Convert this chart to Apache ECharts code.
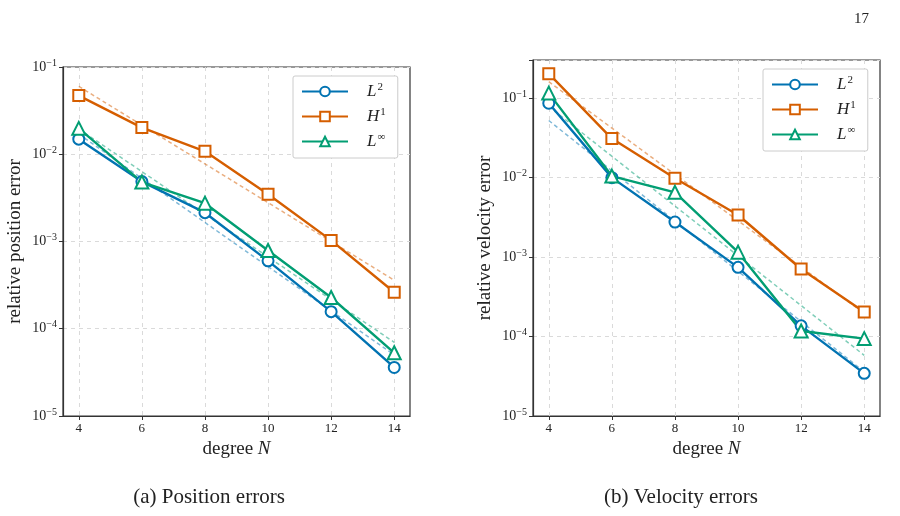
<!DOCTYPE html>
<html>
<head>
<meta charset="utf-8">
<script src="https://cdn.jsdelivr.net/npm/echarts@6/dist/echarts.min.js"></script>
<style>
  html, body { margin: 0; padding: 0; background: #fff; }
  #main { width: 900px; height: 516px; }
</style>
</head>
<body>
<div id="main"></div>
<script>
// degree N on the x axis
const degrees = [4, 6, 8, 10, 12, 14];
const fitDegrees = [4, 14];
const xTicks = [4, 6, 8, 10, 12, 14];

// (a) relative position error
const posL2 = [0.0149, 0.00486, 0.00214, 6.0e-4, 1.57e-4, 3.6e-5];
const posH1 = [0.047, 0.0202, 0.0108, 0.00348, 1.03e-3, 2.62e-4];
const posLinf = [0.0198, 0.0048, 0.00275, 7.9e-4, 2.28e-4, 5.3e-5];
// dashed fit lines (a), values at N=4 and N=14
const posFitL2 = [0.017, 5.0e-5];
const posFitH1 = [0.06, 3.6e-4];
const posFitLinf = [0.0195, 7.0e-5];

// (b) relative velocity error
const velL2 = [0.0857, 0.00995, 0.00275, 7.4e-4, 1.36e-4, 3.44e-5];
const velH1 = [0.202, 0.0308, 0.00977, 3.37e-3, 7.06e-4, 2.03e-4];
const velLinf = [0.115, 0.0104, 0.0065, 1.15e-3, 1.17e-4, 9.4e-5];
// dashed fit lines (b)
const velFitL2 = [0.052, 3.6e-5];
const velFitH1 = [0.16, 1.95e-4];
const velFitLinf = [0.078, 5.8e-5];

const seriesNames = ['L2', 'H1', 'Linf'];
const colors = ['#0173B2', '#D55E00', '#029E73'];
const symbols = ['emptyCircle', 'emptyRect', 'emptyTriangle'];
const legendLabel = { L2: '{i|L}{s|2}', H1: '{i|H}{s|1}', Linf: '{i|L}{s|∞}' };

const serif = 'Liberation Serif';
const ink = '#222';

function pairs(xs, ys) {
  return xs.map((x, i) => [x, ys[i]]);
}

// 10^k labels, skip the non power ends
function logLabel(v) {
  const e = Math.log10(v);
  const k = Math.round(e);
  if (Math.abs(e - k) > 1e-6) return '';
  return '{b|10}{s|' + (k < 0 ? '\u2212' : '') + Math.abs(k) + '}';
}

function solid(i, g, ys) {
  return {
    name: seriesNames[i], type: 'line', xAxisIndex: g, yAxisIndex: g,
    data: pairs(degrees, ys),
    symbol: symbols[i], symbolSize: i === 2 ? 13 : 11,
    lineStyle: { color: colors[i], width: 2.4 },
    itemStyle: { color: colors[i], borderColor: colors[i], borderWidth: 2.2 },
    z: 4
  };
}

function fit(i, g, ys) {
  return {
    name: seriesNames[i] + ' fit', type: 'line', xAxisIndex: g, yAxisIndex: g,
    data: pairs(fitDegrees, ys), symbol: 'none',
    lineStyle: { color: colors[i], width: 1.5, type: [4, 3], opacity: 0.5 },
    z: 3
  };
}

function xAxisFor(g) {
  return {
    type: 'value', gridIndex: g, min: 3.5, max: 14.5,
    name: 'degree {n|N}', nameLocation: 'middle', nameGap: 22,
    nameTextStyle: { fontFamily: serif, fontSize: 19, color: ink,
      rich: { n: { fontFamily: serif, fontSize: 19, fontStyle: 'italic', color: ink } } },
    axisLine: { show: true, onZero: false, lineStyle: { color: '#333', width: 1.2 } },
    axisTick: { show: true, length: 4, customValues: xTicks, lineStyle: { color: '#333' } },
    axisLabel: { customValues: xTicks, margin: 6, fontFamily: serif, fontSize: 13, color: ink },
    splitLine: { show: true, lineStyle: { color: '#dadada', type: [4, 4] } }
  };
}

function yAxisFor(g, max, name) {
  return {
    type: 'log', logBase: 10, gridIndex: g, min: 1e-5, max: max,
    name: name, nameLocation: 'middle', nameGap: 38,
    nameTextStyle: { fontFamily: serif, fontSize: 19, color: ink },
    axisLine: { show: true, lineStyle: { color: '#333', width: 1.2 } },
    axisTick: { show: true, length: 4, lineStyle: { color: '#333' } },
    axisLabel: {
      formatter: logLabel, margin: 6,
      rich: {
        b: { fontFamily: serif, fontSize: 14, color: ink },
        s: { fontFamily: serif, fontSize: 10, color: ink, padding: [0, 0, 8, 0] }
      }
    },
    splitLine: { show: true, lineStyle: { color: '#dadada', type: [4, 4] } }
  };
}

function legendAt(left, top) {
  return {
    orient: 'vertical', left: left, top: top, data: seriesNames,
    itemWidth: 46, itemHeight: 12, itemGap: 7,
    padding: [6, 12, 8, 8],
    borderColor: '#cccccc', borderWidth: 1, borderRadius: 2, backgroundColor: '#fff',
    selectedMode: false,
    formatter: n => legendLabel[n],
    textStyle: {
      rich: {
        i: { fontFamily: serif, fontStyle: 'italic', fontSize: 17, color: ink, lineHeight: 20, padding: [0, 0, 0, 14] },
        s: { fontFamily: serif, fontSize: 11, color: ink, padding: [0, 0, 8, 1] }
      }
    }
  };
}

const chart = echarts.init(document.getElementById('main'));
chart.setOption({
  animation: false,
  backgroundColor: '#fff',
  grid: [
    { left: 63, right: 490, top: 67, bottom: 100, show: true, borderColor: '#333', borderWidth: 1.2 },
    { left: 533, right: 20, top: 60, bottom: 100, show: true, borderColor: '#333', borderWidth: 1.2 }
  ],
  xAxis: [xAxisFor(0), xAxisFor(1)],
  yAxis: [
    yAxisFor(0, 0.1, 'relative position error'),
    yAxisFor(1, 0.3, 'relative velocity error')
  ],
  legend: [legendAt(293, 76), legendAt(763, 69)],
  series: [
    fit(0, 0, posFitL2), fit(1, 0, posFitH1), fit(2, 0, posFitLinf),
    solid(0, 0, posL2), solid(1, 0, posH1), solid(2, 0, posLinf),
    fit(0, 1, velFitL2), fit(1, 1, velFitH1), fit(2, 1, velFitLinf),
    solid(0, 1, velL2), solid(1, 1, velH1), solid(2, 1, velLinf)
  ],
  graphic: [
    { type: 'text', left: 854, top: 12, style: { text: '17', fontFamily: serif, fontSize: 15, fill: '#222' } },
    { type: 'text', x: 209, y: 497, style: { text: '(a) Position errors', fontFamily: serif, fontSize: 21, fill: '#222', align: 'center', verticalAlign: 'middle' } },
    { type: 'text', x: 681, y: 497, style: { text: '(b) Velocity errors', fontFamily: serif, fontSize: 21, fill: '#222', align: 'center', verticalAlign: 'middle' } }
  ]
});
</script>
</body>
</html>
